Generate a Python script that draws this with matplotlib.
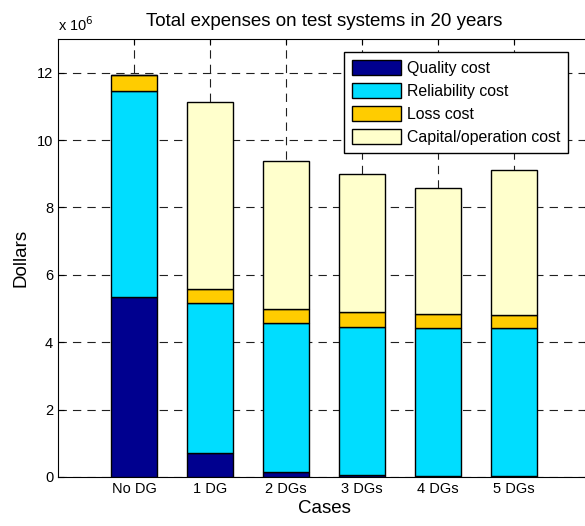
import matplotlib.pyplot as plt
import numpy as np

plt.rcParams["font.family"] = ["Liberation Sans", "DejaVu Sans"]

cases = ["No DG", "1 DG", "2 DGs", "3 DGs", "4 DGs", "5 DGs"]
quality = [5.34, 0.72, 0.15, 0.06, 0.02, 0.02]
reliability = [6.13, 4.43, 4.42, 4.40, 4.40, 4.40]
loss = [0.46, 0.42, 0.43, 0.43, 0.43, 0.38]
capital = [0.0, 5.55, 4.37, 4.11, 3.72, 4.30]

series = [
    ("Quality cost", quality, "#00008f"),
    ("Reliability cost", reliability, "#00ddff"),
    ("Loss cost", loss, "#ffcc00"),
    ("Capital/operation cost", capital, "#ffffcc"),
]

fig = plt.figure(figsize=(5.85, 5.26), dpi=100)
ax = fig.add_axes([58 / 585, 49 / 526, 532 / 585, 438 / 526])

x = np.arange(1, len(cases) + 1)
bottom = np.zeros(len(cases))
for label, values, color in series:
    ax.bar(x, values, width=0.6, bottom=bottom, color=color,
           edgecolor="black", linewidth=1.0, label=label, zorder=3)
    bottom += np.array(values)

ax.set_xlim(0, 7)
ax.set_ylim(0, 13)
ax.set_xticks(x)
ax.set_xticklabels(cases)
ax.set_yticks(np.arange(0, 13, 2))
ax.tick_params(direction="in", top=True, right=True, labelsize=10.5, length=4)
ax.grid(True, color="#202020", linestyle=(0, (7.5, 5.5)), linewidth=0.8, zorder=0)
ax.set_axisbelow(True)

ax.set_title("Total expenses on test systems in 20 years", fontsize=13.5, pad=9)
ax.set_xlabel("Cases", fontsize=13.5, labelpad=3)
ax.set_ylabel("Dollars", fontsize=13.5, labelpad=5)
fig.text(58 / 585, 1 - 25 / 526, r"x 10$^{6}$", fontsize=10.5, ha="left", va="center")

ax.legend(loc="upper left", bbox_to_anchor=(344 / 585, 1 - 52 / 526),
          bbox_transform=fig.transFigure, fancybox=False, edgecolor="black",
          framealpha=1, fontsize=11.4, handlelength=3.1, handleheight=1.1,
          borderpad=0.5, labelspacing=0.45, handletextpad=0.35, borderaxespad=0)

fig.savefig("out.png", dpi=100)
